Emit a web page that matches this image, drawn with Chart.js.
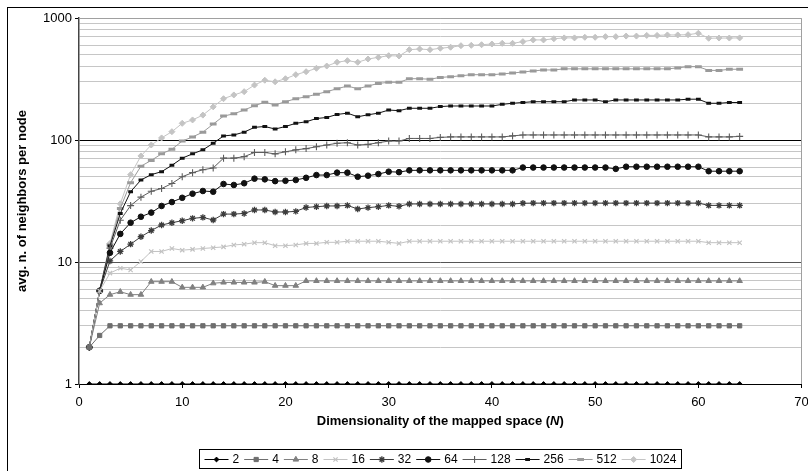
<!DOCTYPE html>
<html>
<head>
<meta charset="utf-8">
<title>avg. n. of neighbors per node</title>
<script src="https://cdn.jsdelivr.net/npm/chart.js@4/dist/chart.umd.min.js"></script>
<style>
  html, body { margin: 0; padding: 0; background: #fff; }
</style>
</head>
<body>
<canvas id="neighbors" width="808" height="471"></canvas>
<script>
// dimensionality N of the mapped space
const dims = [
  1, 2, 3, 4, 5, 6, 7, 8, 9, 10, 11, 12, 13, 14, 15, 16,
  17, 18, 19, 20, 21, 22, 23, 24, 25, 26, 27, 28, 29, 30, 31, 32,
  33, 34, 35, 36, 37, 38, 39, 40, 41, 42, 43, 44, 45, 46, 47, 48,
  49, 50, 51, 52, 53, 54, 55, 56, 57, 58, 59, 60, 61, 62, 63, 64
];

// avg. neighbors per node, one array per network size
const n2 = [
  1, 1, 1, 1, 1, 1, 1, 1, 1, 1, 1, 1, 1, 1, 1, 1,
  1, 1, 1, 1, 1, 1, 1, 1, 1, 1, 1, 1, 1, 1, 1, 1,
  1, 1, 1, 1, 1, 1, 1, 1, 1, 1, 1, 1, 1, 1, 1, 1,
  1, 1, 1, 1, 1, 1, 1, 1, 1, 1, 1, 1, 1, 1, 1, 1
];
const n4 = [
  2, 2.5, 3, 3, 3, 3, 3, 3, 3, 3, 3, 3, 3, 3, 3, 3,
  3, 3, 3, 3, 3, 3, 3, 3, 3, 3, 3, 3, 3, 3, 3, 3,
  3, 3, 3, 3, 3, 3, 3, 3, 3, 3, 3, 3, 3, 3, 3, 3,
  3, 3, 3, 3, 3, 3, 3, 3, 3, 3, 3, 3, 3, 3, 3, 3
];
const n8 = [
  2, 4.6, 5.4, 5.7, 5.4, 5.4, 6.9, 6.9, 6.9, 6.2, 6.2, 6.2, 6.7, 6.8, 6.8, 6.8,
  6.8, 6.9, 6.4, 6.4, 6.4, 7, 7, 7, 7, 7, 7, 7, 7, 7, 7, 7,
  7, 7, 7, 7, 7, 7, 7, 7, 7, 7, 7, 7, 7, 7, 7, 7,
  7, 7, 7, 7, 7, 7, 7, 7, 7, 7, 7, 7, 7, 7, 7, 7
];
const n16 = [
  2, 5.8, 8.1, 8.9, 8.6, 10.1, 12.2, 12.2, 12.9, 12.5, 12.7, 12.9, 13.1, 13.3, 13.8, 14.0,
  14.4, 14.4, 13.6, 13.6, 13.8, 14.2, 14.2, 14.5, 14.5, 14.8, 14.8, 14.8, 14.8, 14.5, 14.2, 14.8,
  14.8, 14.8, 14.8, 14.8, 14.8, 14.8, 14.8, 14.8, 14.8, 14.8, 14.8, 14.8, 14.8, 14.8, 14.8, 14.8,
  14.8, 14.8, 14.8, 14.8, 14.8, 14.8, 14.8, 14.8, 14.8, 14.8, 14.8, 14.8, 14.4, 14.4, 14.4, 14.4
];
const n32 = [
  2, 5.8, 10.2, 12.2, 14.0, 16.1, 18.1, 20.1, 21.0, 21.8, 22.8, 23.2, 22.1, 24.7, 24.7, 25.0,
  26.7, 26.7, 25.7, 25.7, 26.0, 28.0, 28.4, 28.8, 28.8, 29.1, 27.2, 27.9, 28.4, 29.1, 28.6, 29.9,
  29.9, 29.9, 29.9, 29.9, 29.9, 29.9, 29.9, 29.9, 29.9, 29.9, 30.3, 30.4, 30.4, 30.4, 30.4, 30.4,
  30.4, 30.4, 30.4, 30.4, 30.4, 30.4, 30.4, 30.4, 30.4, 30.4, 30.4, 30.4, 29.1, 29.1, 29.1, 29.1
];
const n64 = [
  2, 5.8, 11.9, 17.0, 21.0, 23.5, 25.4, 28.8, 31.0, 33.6, 36.3, 38.2, 37.7, 43.6, 42.8, 44.2,
  48.2, 47.6, 46.0, 46.3, 47.0, 49.0, 51.6, 51.6, 54.0, 54.0, 50.0, 51.0, 52.6, 55.0, 54.5, 56.4,
  56.4, 56.4, 56.4, 56.4, 56.4, 56.4, 56.4, 56.4, 56.4, 56.4, 59.5, 59.5, 59.5, 59.5, 59.5, 59.5,
  59.5, 59.5, 59.5, 58.0, 60.4, 60.4, 60.4, 60.4, 60.4, 60.4, 60.4, 60.4, 55.5, 55.5, 55.5, 55.5
];
const n128 = [
  2, 5.8, 13, 22, 29, 34, 38, 40, 44, 50, 54, 57, 59, 71, 71, 73,
  79, 79, 77, 80, 83, 85, 88, 91, 94, 95, 91, 92, 95, 98, 98, 103,
  103, 103, 105, 106, 106, 106, 106, 106, 106, 108, 110, 110, 110, 110, 110, 110,
  110, 110, 110, 110, 110, 110, 110, 110, 110, 110, 110, 110, 106, 106, 106, 107
];
const n256 = [
  2, 5.8, 13.5, 25, 37.7, 47, 52, 55, 62, 71, 77, 83, 94, 108, 110, 116,
  127, 129, 123, 129, 137, 141, 150, 153, 162, 166, 155, 161, 166, 176, 174, 182,
  182, 182, 188, 190, 190, 190, 190, 190, 196, 200, 203, 206, 206, 206, 206, 213,
  213, 213, 206, 213, 213, 213, 213, 213, 213, 213, 216, 216, 200, 200, 203, 203
];
const n512 = [
  2, 5.8, 13.8, 27.5, 44.7, 61, 68, 77, 84, 98, 106, 116, 135, 157, 164, 176,
  191, 204, 194, 206, 218, 226, 237, 249, 263, 277, 263, 277, 291, 297, 297, 318,
  318, 315, 326, 330, 336, 343, 343, 343, 348, 354, 361, 368, 375, 375, 383, 383,
  383, 383, 383, 383, 383, 383, 383, 383, 383, 390, 399, 399, 372, 372, 380, 380
];
const n1024 = [
  2, 5.9, 14.2, 30, 52, 74, 91, 104, 117, 137, 146, 160, 187, 218, 234, 249,
  282, 309, 300, 318, 343, 363, 387, 404, 434, 447, 434, 461, 476, 491, 488, 550,
  557, 550, 565, 576, 593, 597, 604, 612, 620, 620, 640, 661, 661, 676, 687, 687,
  695, 695, 703, 703, 711, 711, 720, 720, 726, 726, 730, 750, 682, 685, 685, 687
];

const seriesLabels = ["2", "4", "8", "16", "32", "64", "128", "256", "512", "1024"];
const xTicks = [0, 10, 20, 30, 40, 50, 60, 70];
const yTicks = [1, 10, 100, 1000];
const yGrid = [
  1, 2, 3, 4, 5, 6, 7, 8, 9,
  10, 20, 30, 40, 50, 60, 70, 80, 90,
  100, 200, 300, 400, 500, 600, 700, 800, 900,
  1000
];

const FONT = "'Liberation Sans', Arial, sans-serif";
Chart.defaults.font.family = FONT;
Chart.defaults.font.size = 13;
Chart.defaults.color = "#000";

function series(label, values, color, style, radius, pbw) {
  return {
    label,
    data: values.map((v, i) => ({ x: dims[i], y: v })),
    borderColor: color,
    backgroundColor: color,
    borderWidth: 1,
    pointStyle: style,
    pointRadius: radius,
    pointHoverRadius: radius,
    pointBackgroundColor: color,
    pointBorderColor: color,
    pointBorderWidth: pbw,
    tension: 0,
  };
}

const datasets = [
  series(seriesLabels[0], n2, "#000000", "rectRot", 2.4, 1),
  series(seriesLabels[1], n4, "#6e6e6e", "rect", 3, 1),
  series(seriesLabels[2], n8, "#808080", "triangle", 3.2, 1),
  series(seriesLabels[3], n16, "#c2c2c2", "crossRot", 3, 1.2),
  series(seriesLabels[4], n32, "#3c3c3c", "star", 3.2, 1.3),
  series(seriesLabels[5], n64, "#111111", "circle", 2.8, 1),
  series(seriesLabels[6], n128, "#5c5c5c", "cross", 3.5, 1.1),
  series(seriesLabels[7], n256, "#111111", "line", 2.4, 3),
  series(seriesLabels[8], n512, "#9a9a9a", "line", 3.4, 3),
  series(seriesLabels[9], n1024, "#c4c4c4", "rectRot", 3, 1),
];

// outer frame plus the grey top/right edge of the plot area
const frame = {
  id: "frame",
  beforeDraw(chart) {
    const { ctx } = chart;
    ctx.save();
    ctx.fillStyle = "#fff";
    ctx.fillRect(0, 0, chart.width, chart.height);
    ctx.strokeStyle = "#000";
    ctx.lineWidth = 1;
    ctx.strokeRect(7.5, 7.5, chart.width + 20, chart.height + 20);
    ctx.restore();
  },
  beforeDatasetsDraw(chart) {
    const { ctx, chartArea: a } = chart;
    ctx.save();
    ctx.strokeStyle = "#a0a0a0";
    ctx.lineWidth = 1;
    ctx.beginPath();
    ctx.moveTo(a.left, Math.round(a.top) + 0.5);
    ctx.lineTo(Math.round(a.right) - 0.5, Math.round(a.top) + 0.5);
    ctx.lineTo(Math.round(a.right) - 0.5, a.bottom);
    ctx.stroke();
    ctx.restore();
  },
};

// axis titles (x title has an italic N)
const axisTitles = {
  id: "axisTitles",
  afterDraw(chart) {
    const { ctx, chartArea: a } = chart;
    ctx.save();
    ctx.fillStyle = "#000";
    ctx.textBaseline = "middle";
    ctx.textAlign = "left";
    const parts = [
      ["bold 13px " + FONT, "Dimensionality of the mapped space ("],
      ["italic bold 13px " + FONT, "N"],
      ["bold 13px " + FONT, ")"],
    ];
    let total = 0;
    parts.forEach(([f, t]) => { ctx.font = f; total += ctx.measureText(t).width; });
    let x = (a.left + a.right) / 2 - total / 2;
    parts.forEach(([f, t]) => {
      ctx.font = f;
      ctx.fillText(t, x, 421);
      x += ctx.measureText(t).width;
    });

    ctx.translate(22, (a.top + a.bottom) / 2);
    ctx.rotate(-Math.PI / 2);
    ctx.font = "bold 13px " + FONT;
    ctx.textAlign = "center";
    ctx.fillText("avg. n. of neighbors per node", 0, 0);
    ctx.restore();
  },
};

// boxed legend with a line sample and marker for each series
const legendBox = {
  id: "legendBox",
  afterDraw(chart) {
    const { ctx, chartArea: a } = chart;
    const sets = chart.data.datasets;
    const lineW = 24, gapIn = 4, gapOut = 5, pad = 5;
    ctx.save();
    ctx.font = "12px " + FONT;
    const widths = sets.map(ds => lineW + gapIn + ctx.measureText(ds.label).width);
    const total = widths.reduce((s, w) => s + w, 0) + gapOut * (sets.length - 1);
    const boxW = Math.round(total + pad * 2);
    const boxH = 19;
    const bx = Math.round((a.left + a.right) / 2 - boxW / 2) + 0.5;
    const by = 449.5;
    ctx.strokeStyle = "#000";
    ctx.lineWidth = 1;
    ctx.strokeRect(bx, by, boxW, boxH);

    const cy = by + boxH / 2;
    let x = bx + pad;
    sets.forEach((ds, i) => {
      ctx.strokeStyle = ds.borderColor;
      ctx.lineWidth = 1;
      ctx.beginPath();
      ctx.moveTo(x, Math.round(cy) + 0.5);
      ctx.lineTo(x + lineW, Math.round(cy) + 0.5);
      ctx.stroke();
      ctx.fillStyle = ds.pointBackgroundColor;
      ctx.strokeStyle = ds.pointBorderColor;
      ctx.lineWidth = ds.pointBorderWidth;
      Chart.helpers.drawPoint(ctx, {
        pointStyle: ds.pointStyle,
        radius: ds.pointRadius,
        borderWidth: ds.pointBorderWidth,
        rotation: 0,
      }, x + lineW / 2, Math.round(cy) + 0.5);
      ctx.fillStyle = "#000";
      ctx.textAlign = "left";
      ctx.textBaseline = "middle";
      ctx.fillText(ds.label, x + lineW + gapIn, cy + 0.5);
      x += widths[i] + gapOut;
    });
    ctx.restore();
  },
};

new Chart(document.getElementById("neighbors"), {
  type: "line",
  data: { datasets },
  plugins: [frame, axisTitles, legendBox],
  options: {
    responsive: false,
    animation: false,
    layout: { padding: { left: 0, top: 18, right: 2, bottom: 0 } },
    plugins: {
      legend: { display: false },
      tooltip: { enabled: false },
    },
    scales: {
      x: {
        type: "linear",
        min: xTicks[0],
        max: xTicks[xTicks.length - 1],
        afterBuildTicks: (scale) => { scale.ticks = xTicks.map(v => ({ value: v })); },
        ticks: { padding: 7, maxRotation: 0, autoSkip: false },
        grid: { drawOnChartArea: false, tickLength: 4, tickColor: "#000" },
        border: { color: "#000" },
        afterFit: (s) => { s.height = 87; s.paddingLeft = 0; s.paddingRight = 0; },
      },
      y: {
        type: "logarithmic",
        min: yTicks[0],
        max: yTicks[yTicks.length - 1],
        afterBuildTicks: (scale) => { scale.ticks = yGrid.map(v => ({ value: v })); },
        ticks: {
          autoSkip: false,
          padding: 3,
          callback: (v) => (yTicks.includes(v) ? String(v) : ""),
        },
        grid: {
          color: (c) => {
            const v = c.tick && c.tick.value;
            if (v === 100) return "#000";
            if (v === 10) return "#555";
            if (v === 1000) return "#a0a0a0";
            return "#c6c6c6";
          },
          tickLength: 4,
          tickColor: (c) => (yTicks.includes(c.tick && c.tick.value) ? "#000" : "rgba(0,0,0,0)"),
        },
        border: { color: "#444", width: 1.5 },
        afterFit: (s) => { s.width = 79; },
      },
    },
  },
});
</script>
</body>
</html>
